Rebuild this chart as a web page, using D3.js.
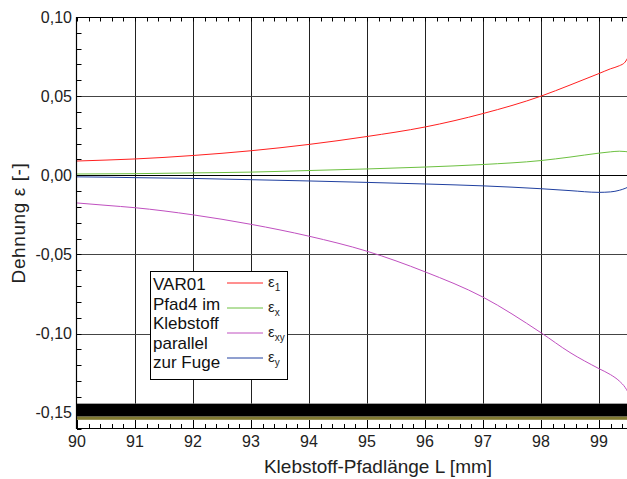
<!DOCTYPE html>
<html><head><meta charset="utf-8">
<script src="https://cdn.jsdelivr.net/npm/d3@7"></script>
<style>body{margin:0;background:#fff}svg{display:block;font-family:"Liberation Sans",Arial,sans-serif}</style>
</head><body><svg id="c" width="627" height="479"></svg>
<script>
const xTicks = [90,91,92,93,94,95,96,97,98,99];
const yTicks = [0.10,0.05,0.00,-0.05,-0.10,-0.15];
const L = [90,90.5,91,92,93,94,95,96,97,98,98.5,99,99.2,99.35,99.45,99.5];
const eps1 = [0.0090,0.0096,0.0103,0.0125,0.0155,0.0195,0.0245,0.0305,0.0390,0.0500,0.0570,0.0643,0.0673,0.0692,0.0715,0.0745];
const epsX = [0.0008,0.0009,0.0010,0.0015,0.0020,0.0030,0.0040,0.0052,0.0068,0.0093,0.0115,0.0140,0.0148,0.0152,0.0150,0.0148];
const epsXY = [-0.0175,-0.0190,-0.0205,-0.0250,-0.0310,-0.0385,-0.0480,-0.0610,-0.0770,-0.0995,-0.1120,-0.1222,-0.1260,-0.1300,-0.1340,-0.1370];
const epsY = [-0.0010,-0.0012,-0.0015,-0.0020,-0.0028,-0.0036,-0.0045,-0.0055,-0.0067,-0.0085,-0.0097,-0.0108,-0.0105,-0.0095,-0.0083,-0.0075];
const bandBlack = [-0.1443,-0.1525];
const bandOlive = [-0.1525,-0.1545];
const seriesNames = ["1","x","xy","y"];
const seriesColors = ["#ff2020","#6cc040","#c050c0","#2040a0"];
const legendText = ["VAR01","Pfad4 im","Klebstoff","parallel","zur Fuge"];

const svg = d3.select("#c");
const x = d3.scaleLinear().domain([90,99.5]).range([77,628]);
const y = d3.scaleLinear().domain([-0.16,0.10]).range([428.5,17]);
const fmt = v => d3.format(".2f")(v).replace(".",",").replace("−","-");

// bands
svg.append("rect").attr("x",x(90)).attr("width",x(99.5)-x(90))
  .attr("y",y(bandBlack[0])).attr("height",y(bandBlack[1])-y(bandBlack[0])).attr("fill","#000");
svg.append("rect").attr("x",x(90)).attr("width",x(99.5)-x(90))
  .attr("y",y(bandOlive[0])).attr("height",y(bandOlive[1])-y(bandOlive[0])).attr("fill","#807a30");

// grid
const g = svg.append("g");
xTicks.slice(1).forEach(t=>g.append("line").attr("x1",Math.round(x(t))+0.5).attr("x2",Math.round(x(t))+0.5).attr("y1",17).attr("y2",y(bandBlack[0])).attr("stroke","#222"));
yTicks.forEach(t=>{ if(t<-0.12||t>0.09) return; g.append("line").attr("x1",77).attr("x2",628).attr("y1",Math.round(y(t))+0.5).attr("y2",Math.round(y(t))+0.5).attr("stroke",t===0?"#000":"#444");});

// minor ticks
const minorX = d3.range(90,99.6,0.2);
minorX.forEach(t=>{
  const px = Math.round(x(t))+0.5;
  svg.append("line").attr("x1",px).attr("x2",px).attr("y1",428.5).attr("y2",424).attr("stroke","#000");
  svg.append("line").attr("x1",px).attr("x2",px).attr("y1",17).attr("y2",21.5).attr("stroke","#000");
});
d3.range(-0.16,0.1001,0.01).forEach(t=>{
  const py = Math.round(y(t))+0.5;
  svg.append("line").attr("x1",77).attr("x2",81.5).attr("y1",py).attr("y2",py).attr("stroke","#000");
});
xTicks.forEach(t=>{
  const px = Math.round(x(t))+0.5;
  svg.append("line").attr("x1",px).attr("x2",px).attr("y1",428.5).attr("y2",420).attr("stroke","#000");
});

// lines
const line = arr => d3.line().x((d,i)=>x(L[i])).y(d=>y(d)).curve(d3.curveMonotoneX)(arr);
[eps1,epsX,epsXY,epsY].forEach((s,i)=>svg.append("path").attr("d",line(s)).attr("fill","none").attr("stroke",seriesColors[i]).attr("stroke-width",1));

// axes lines
svg.append("line").attr("x1",76.5).attr("x2",76.5).attr("y1",17).attr("y2",429).attr("stroke","#000").attr("stroke-width",1.2);
svg.append("line").attr("x1",76.5).attr("x2",628).attr("y1",428.5).attr("y2",428.5).attr("stroke","#000").attr("stroke-width",1.2);
svg.append("line").attr("x1",76.5).attr("x2",628).attr("y1",17.5).attr("y2",17.5).attr("stroke","#000").attr("stroke-width",1.2);

// tick labels
xTicks.forEach(t=>svg.append("text").attr("x",x(t)).attr("y",447).attr("text-anchor","middle").attr("font-size",16).attr("fill","#222").text(t));
yTicks.forEach(t=>svg.append("text").attr("x",72).attr("y",y(t)+5.5).attr("text-anchor","end").attr("font-size",16).attr("fill","#222").text(fmt(t)));

svg.append("text").attr("x",378).attr("y",473).attr("text-anchor","middle").attr("font-size",19).attr("fill","#222").text("Klebstoff-Pfadlänge L [mm]");
svg.append("text").attr("transform","translate(25,223) rotate(-90)").attr("text-anchor","middle").attr("font-size",19).attr("letter-spacing",0.6).attr("fill","#222").text("Dehnung ε [-]");

// legend
const lg = svg.append("g");
lg.append("rect").attr("x",150.5).attr("y",271.5).attr("width",137).attr("height",108).attr("fill","#fff").attr("stroke","#000");
legendText.forEach((t,i)=>lg.append("text").attr("x",153).attr("y",290+i*19.5).attr("font-size",17).attr("fill","#111").text(t));
seriesNames.forEach((n,i)=>{
  const ly = 283+i*25;
  lg.append("line").attr("x1",227).attr("x2",263).attr("y1",ly).attr("y2",ly).attr("stroke",seriesColors[i]);
  const tx = lg.append("text").attr("x",268).attr("y",ly+4).attr("font-size",15).attr("fill","#222");
  tx.append("tspan").text("ε");
  tx.append("tspan").attr("dy",4).attr("font-size",10).text(n);
});
</script></body></html>
